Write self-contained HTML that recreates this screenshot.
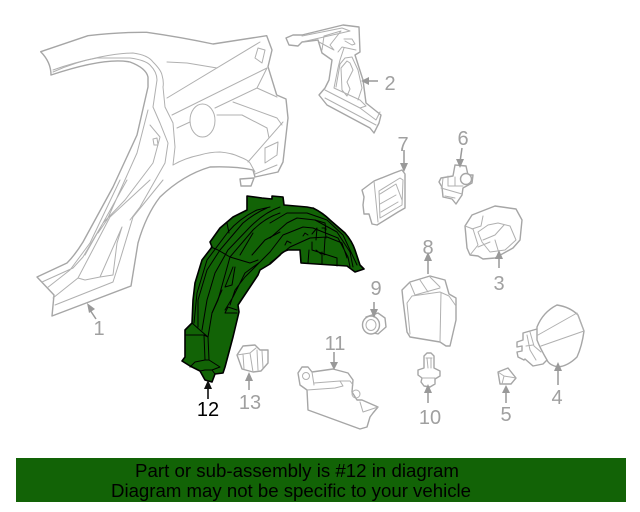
<!DOCTYPE html>
<html><head><meta charset="utf-8"><style>
html,body{margin:0;padding:0;background:#fff;width:640px;height:512px;overflow:hidden}
svg{display:block}
.g{fill:#fff;stroke:#a6a6a6;stroke-width:1.4;stroke-linejoin:round;stroke-linecap:round}
.t{fill:none;stroke:#b0b0b0;stroke-width:1;stroke-linejoin:round;stroke-linecap:round}
.a{fill:none;stroke:#999;stroke-width:1.5}
.h{fill:#999;stroke:none}
.l{font-family:"Liberation Sans",sans-serif;font-size:20px;fill:#a0a0a0;text-anchor:middle}
.k{fill:none;stroke:#000;stroke-width:1;stroke-linejoin:round;stroke-linecap:round}
</style></head><body>
<svg width="640" height="512" viewBox="0 0 640 512" xmlns="http://www.w3.org/2000/svg">
<!-- part 1 -->
<path class="g" d="M40.7 51.7L88 35.7Q120 32 146.700 32.300Q180 37 213 44L266.700 35.700L272 50L268 66.700L276.700 95L286 99L288 118L283 162L278 172L255 177L253 170Q235 166 210 167Q183 175 160 197Q146 215 138 243L131 286L52 316L54 295L37 277L67 263Q75 255 83 242L113 187L137 135L148 87L148 77Q146 68 130 62Q105 57 51 75Q51 62 40.700 51.700Z"/>
<path class="t" d="M53 72Q75 62 100 57Q120 53 133 53Q148 55 153 62Q161 70 162 75Q164 82 163 87L165 107L173 123L175 147L173 165"/>
<path class="t" d="M53 70Q75 62 97 58L130 58Q145 60 150 65Q157 72 157 80L153 107L160 123L168 143L165 163L140 207L130 220"/>
<path class="t" d="M173 165Q185 158 200 155Q210 152 220 152Q232 153 240 157Q248 160 250 163L255 172M255 174L277 165"/>
<path class="t" d="M167 98L260 42M172 115L267 68L257 88L215 108M177 128L190 122M257 88L277 97M233 102L277 118L282 125M217 115L242 115L267 128L269 138M283 122L248 162M167 62L187 63L217 68"/>
<path class="t" d="M255 58L258 48L265 50L262 63ZM265 148L278 142L277 155L265 163ZM153 139L157 138L158 145L154 145Z"/>
<ellipse cx="202.500" cy="120.500" rx="12.500" ry="16.500" class="t"/>
<path class="t" d="M148 110L137 153L107 220L98 233M150 125L160 137L153 163L125 200L103 223L83 257L73 268L42 282M127 180L103 223L85 255M120 180L90 243L70 270L47 288M163 180L133 217L120 260L113 282L55 305M150 180L110 217L78 278L53 298M122 227L117 243L113 275L100 277L85 280L78 278M122 227L100 277"/>
<path class="g" d="M240 179L254 178L251 186L241 186Z"/>
<!-- part 2 -->
<path class="g" d="M286 38L293 35L302 35L343 25L359 27L360 52L355 55L363 80L366 103L381 115L379 123L374 133L370 128L327 105L319 95L325 88L329 80L332 60L322 53L318 40L302 42L298 46L289 45Z"/>
<path class="t" d="M302 36L342 28L350 31L302 42M322 50L324 36L341 31L330 45L334 50L319 42M344 39L352 39L355 44L352 45L345 41M338 52L342 47L356 50M344 48L340 60L338 68L334 88L360 100L366 106L360 108L325 90M336 87L340 64L345 58L352 57L358 70L362 88L358 100M342 90L341 68L347 61L350 63L353 70L347 82L350 89L347 96ZM360 108L376 120L380 112M325 98L376 125"/>
<!-- part 7 -->
<path class="g" d="M374 181L394 173L402 170L405 174L405 208L398 212L377 225L372 224L369 214L364 214L363 205L364 197L362 190Z"/>
<path class="t" d="M374 181L378 222M379 191L400 178L403 180L402 205L380 218ZM380 194L396 184L402 200M380 204L396 195M381 212L398 202"/>
<!-- part 6 -->
<path class="g" d="M455 165L466 166L468 175L473 175L472 183L463 188L462 195L456 204L452 199L443 197L442 187L439 182L441 178L453 176Z"/>
<circle cx="466" cy="179" r="5.500" class="g"/>
<path class="t" d="M443 178L442 188M448 176L448 186L463 186M455 177L455 186M441 188L462 194M445 196L455 198"/>
<!-- part 3 -->
<path class="g" d="M465 226L472 215L495 206L516 209L522 220L520 240L513 248L495 258L483 259L478 256L470 255L467 248Z"/>
<path class="t" d="M465 226L473 229L478 245L470 255M478 232L488 225L498 223L510 226L516 240L505 250L490 252L482 242ZM472 229L481 226L483 216M483 240L495 235L504 225M495 240L498 250M478 247L490 242"/>
<!-- part 8 -->
<path class="g" d="M402 290L410 282L430 276L445 280L449 294L456 298L456 320L450 346L446 346L440 342L410 337L407 332L403 300Z"/>
<path class="t" d="M407 303L412 296L440 292L449 296L456 306M407 303L410 334M441 293L440 342M410 283L415 295M420 280L428 292M430 277L440 287M415 295L440 288"/>
<!-- part 9 -->
<path class="g" d="M366 317L378 313L385 318L386 327L378 334L370 332Z"/>
<ellipse cx="371" cy="325" rx="8.500" ry="9" class="g"/>
<ellipse cx="371" cy="325" rx="5" ry="5.500" class="t"/>
<!-- part 10 -->
<path class="g" d="M424 356L427 353L431 353L434 356L434 368L440 371L440 376L435 379L435 384L430 387L424 386L421 382L422 378L418 375L418 370L424 368Z"/>
<path class="t" d="M426 358L432 358M427 358L428 368M431 358L431 368M422 378L435 378"/>
<!-- part 5 -->
<path class="g" d="M498 372L508 368L516 378L511 384L500 384Z"/>
<path class="t" d="M498 372L504 376L502 384M504 376L516 378"/>
<!-- part 4 -->
<path class="g" d="M517 342L523 340L523 333L537 329L541 340L547 360L543 364L533 366L525 359L524 360L518 357L517 352L522 351L522 346L517 347Z"/>
<path class="t" d="M527 335L530 350L536 360M530 332L534 346L541 352M526 346L533 345"/>
<path class="g" d="M537 327Q543 312 557 305Q570 307 578 315L584 331Q582 346 577 357Q568 366 558 367Q549 365 547 360Q540 348 537 340Z"/>
<path class="t" d="M538 335L577 313L584 331L541 346"/>
<!-- part 13 -->
<path class="g" d="M237 355L243 346L255 345L260 350L268 350L268 363L261 371L253 372L242 369Z"/>
<path class="t" d="M243 354L244 369M250 353L253 372M257 350L258 370M262 351L263 368M237 355L250 353L256 348"/>
<!-- part 11 -->
<path class="g" d="M298 373L302 367L308 367L312 372L333 369L348 373L353 380L352 392L357 400L362 400L378 407L373 413L370 417L367 427L360 429L308 410L307 390L300 385Z"/>
<circle cx="306" cy="376" r="3.500" class="t"/>
<circle cx="356" cy="394" r="4" class="t"/>
<path class="t" d="M312 372L314 385M314 383L340 381L343 386L335 388L307 390M340 381L350 381L353 385M360 402L363 412L378 407"/>
<!-- Green part 12 -->
<path d="M247 196L262 198L272 199L272 196L283 197L284 205L307 207L312 208L313 208Q323 213 330 220L345 233Q352 241 355 250L360 265L364 269L355 272L347 266L301 263L300 250L288 250Q282 252 280 255L270 264L260 270L258 275L238 305L239 312L233 337L225 367L223 373L215 374L212 382L205 380L200 371L190 366L182 361L185 357L185 330L192 323L193 300L195 283L202 260L212 247L210 242L220 228L233 217L247 210Z" fill="#126306" stroke="#000" stroke-width="1.600" stroke-linejoin="round"/>
<g class="k">
<path d="M194 323L197 293L207 260L228 232Q240 218 257 210L270 207M198 327L198 300L207 270L220 250L243 223Q255 213 267 208M202 330L207 300L215 273L228 250L250 227Q265 212 280 207M212 313L218 300L230 257L253 230Q265 218 280 213"/>
<path d="M208 337L212 313L222 290M225 310L233 297L245 273L260 262M230 305L235 290L245 277L270 252"/>
<path d="M211 247L218 250L230 257L250 263L258 260M229 233L227 223M240 255L253 233M252 255L265 240L280 232M233 267L225 287L232 285L235 267"/>
<path d="M270 223L287 213L307 213L327 220L343 235L357 265M270 238L287 223L297 218L315 220L337 232L350 252L353 267M270 252L283 235L303 227L313 228L338 238L348 257L350 267M270 263L290 247L310 238L327 237L342 243L347 258"/>
<path d="M309 250L308 263M322 252L322 264M312 242L312 250L337 258L337 266M325 238L324 255M312 234L317 228L316 240M322 228L325 228L326 238M315 220L325 223L326 230M316 250L321 254"/>
<path d="M285 245L287 241L291 243M303 236L305 233L308 235"/>
<path d="M185 335L204 335L208 337L201 331L192 323M204 335L205 360M208 337L209 360L220 367M205 360L195 362L190 367M205 370L212 370L220 367M205 360L209 360M212 370L215 374M205 370L200 371M228 307L225 313L237 313M228 307L237 310"/>
</g>
<!-- Arrows and labels -->
<g>
<path class="a" d="M90 310L96 319M366 81L378 81M404 150L404 168M462 148L460 162M499 258L499 268M428 256L428 274M374 302L374 314M558 370L558 385M506 390L506 403M428 391L428 403M334 352L334 365M249 376L249 390"/>
<path class="h" d="M87 303L95 309L89 313ZM361 81L369 77L369 85ZM404 172L400 163L408 163ZM460 168L456 159L464 159ZM499 250L495 259L503 259ZM428 252L424 261L432 261ZM374 318L370 309L378 309ZM558 362L554 371L562 371ZM506 385L502 393L510 393ZM428 384L424 393L432 393ZM334 370L330 362L338 362ZM249 372L245 381L253 381Z"/>
<path d="M208 384L208 399" stroke="#111" stroke-width="1.600" fill="none"/>
<path d="M208 380L204 389L212 389Z" fill="#111"/>
</g>
<text class="l" x="99" y="335">1</text>
<text class="l" x="390" y="90">2</text>
<text class="l" x="499" y="290">3</text>
<text class="l" x="557" y="404">4</text>
<text class="l" x="506" y="421">5</text>
<text class="l" x="463" y="145">6</text>
<text class="l" x="403" y="151">7</text>
<text class="l" x="428" y="254">8</text>
<text class="l" x="376" y="295">9</text>
<text class="l" x="430" y="424">10</text>
<text class="l" x="335" y="350">11</text>
<text x="208" y="416" font-family="Liberation Sans,sans-serif" font-size="20" fill="#000" text-anchor="middle">12</text>
<text class="l" x="250" y="409">13</text>
<!-- banner -->
<rect x="16" y="458" width="610" height="44" fill="#126306"/>
<text x="135" y="477" font-family="Liberation Sans,sans-serif" font-size="18" fill="#000" textLength="324" lengthAdjust="spacingAndGlyphs">Part or sub-assembly is #12 in diagram</text>
<text x="111" y="497" font-family="Liberation Sans,sans-serif" font-size="18" fill="#000" textLength="360" lengthAdjust="spacingAndGlyphs">Diagram may not be specific to your vehicle</text>
</svg>
</body></html>
